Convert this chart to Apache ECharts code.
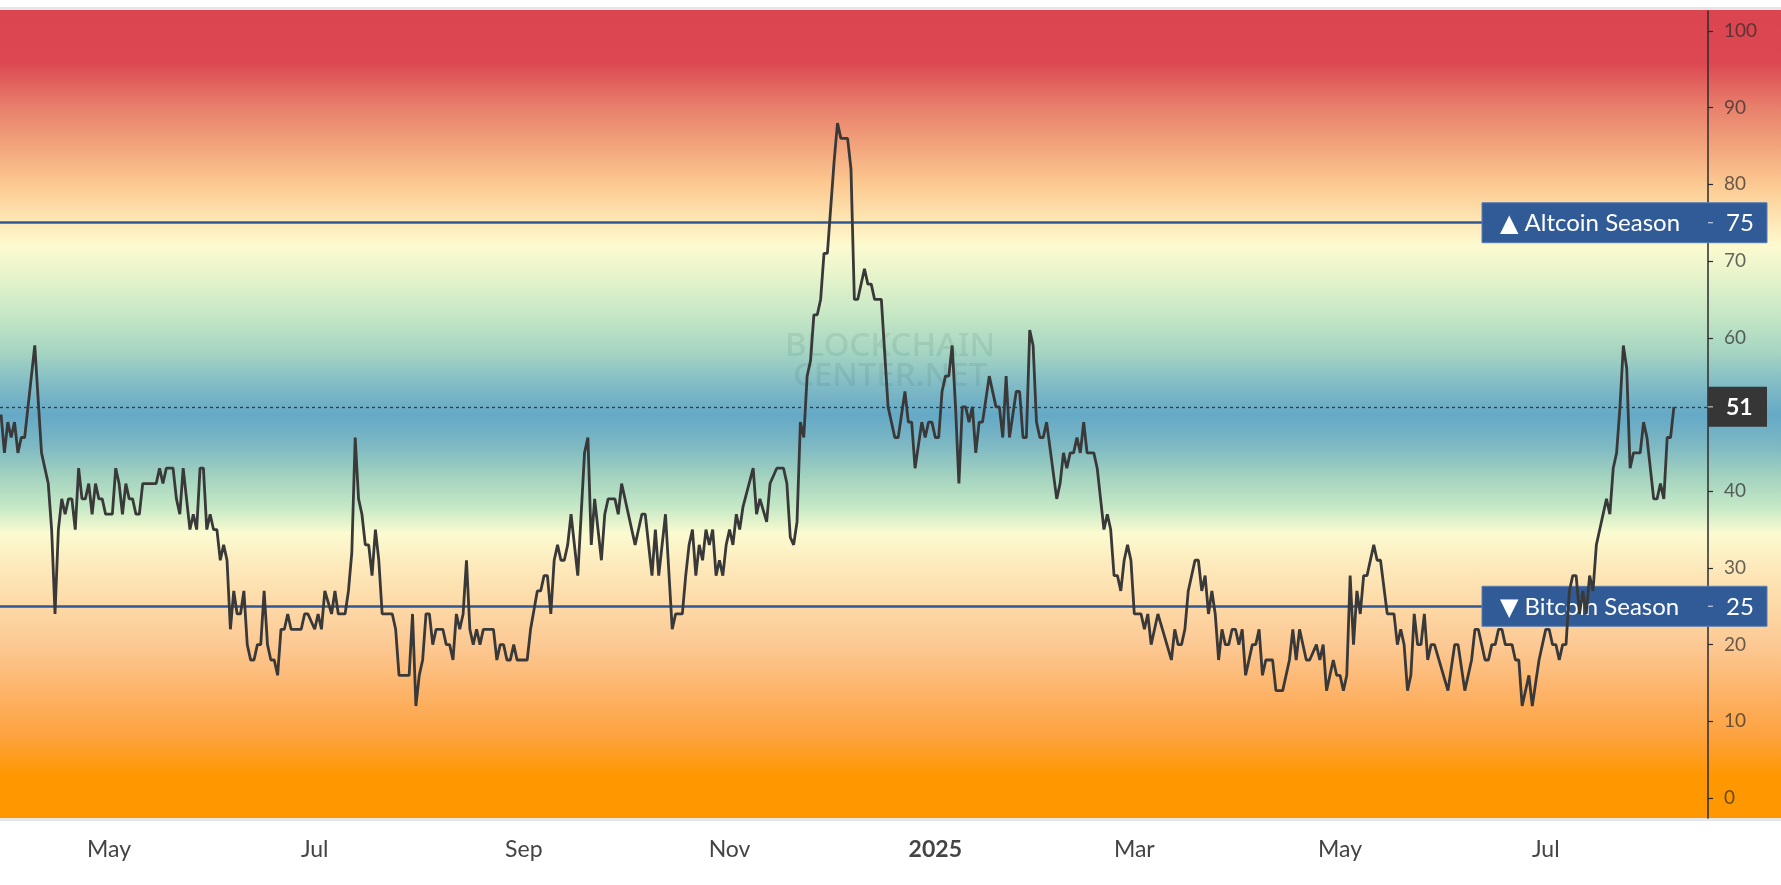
<!DOCTYPE html>
<html>
<head>
<meta charset="utf-8">
<script src="https://cdn.jsdelivr.net/npm/echarts@6/dist/echarts.min.js"></script>
<style>
html, body { margin: 0; padding: 0; background: #fff; }
#main { width: 1781px; height: 885px; }
</style>
</head>
<body>
<div id="main"></div>
<script>
var DAY = 86400000;
var startDate = Date.UTC(2024, 2, 30);

// days since startDate, and the index value on that day
var dayOffsets = [0, 1, 2, 3, 4, 5, 6, 7, 8, 10, 12, 14, 15, 16, 17, 18, 19, 20, 21, 22, 23, 24, 25, 26, 27, 28, 29, 30, 31, 33, 34, 35, 36, 37, 38, 39, 40, 41, 42, 46, 47, 48, 49, 51, 52, 53, 54, 55, 56, 57, 58, 59, 60, 61, 62, 63, 64, 65, 66, 67, 68, 69, 70, 71, 72, 73, 74, 75, 76, 77, 78, 79, 80, 81, 82, 83, 84, 85, 86, 89, 90, 91, 93, 94, 95, 96, 98, 99, 100, 102, 103, 104, 105, 106, 107, 108, 109, 110, 111, 112, 113, 116, 117, 118, 121, 122, 123, 124, 125, 126, 127, 128, 129, 131, 132, 133, 134, 135, 136, 137, 138, 139, 140, 141, 142, 143, 146, 147, 148, 149, 150, 151, 152, 153, 156, 157, 159, 160, 161, 162, 163, 164, 165, 166, 167, 168, 169, 171, 173, 174, 175, 176, 177, 178, 179, 180, 182, 183, 184, 186, 188, 189, 190, 191, 193, 194, 195, 197, 199, 200, 202, 203, 204, 205, 206, 207, 208, 209, 210, 211, 212, 213, 214, 215, 216, 217, 218, 219, 220, 223, 224, 225, 227, 228, 230, 232, 233, 234, 235, 236, 237, 238, 239, 240, 241, 242, 243, 244, 245, 246, 247, 248, 249, 251, 252, 253, 254, 256, 257, 258, 259, 261, 263, 265, 266, 268, 269, 270, 271, 273, 274, 275, 276, 277, 278, 279, 280, 281, 282, 283, 284, 285, 286, 287, 288, 289, 290, 291, 293, 295, 296, 297, 298, 299, 301, 302, 303, 304, 305, 306, 307, 308, 309, 310, 313, 314, 315, 316, 317, 318, 319, 320, 321, 322, 324, 325, 327, 328, 329, 330, 331, 332, 333, 334, 335, 336, 338, 339, 340, 341, 343, 347, 348, 349, 350, 351, 352, 354, 355, 356, 357, 358, 359, 360, 361, 362, 363, 364, 365, 366, 367, 368, 369, 371, 372, 373, 374, 375, 377, 378, 380, 382, 383, 384, 385, 387, 388, 390, 391, 392, 393, 395, 396, 397, 398, 399, 400, 401, 402, 403, 404, 405, 407, 408, 409, 411, 413, 414, 415, 416, 417, 418, 419, 420, 421, 422, 423, 424, 425, 429, 431, 432, 434, 436, 437, 438, 440, 441, 442, 443, 444, 445, 446, 448, 449, 450, 451, 453, 454, 456, 457, 458, 459, 460, 461, 462, 463, 464, 465, 466, 467, 468, 469, 470, 471, 472, 473, 474, 476, 477, 478, 479, 480, 481, 482, 483, 484, 486, 487, 488, 490, 491, 492, 493, 494, 495, 496];
var altIndex = [50, 45, 49, 47, 49, 45, 47, 47, 51, 59, 45, 41, 35, 24, 35, 39, 37, 39, 39, 35, 43, 39, 39, 41, 37, 41, 39, 39, 37, 37, 43, 41, 37, 41, 39, 39, 37, 37, 41, 41, 43, 41, 43, 43, 39, 37, 43, 39, 35, 37, 35, 43, 43, 35, 37, 35, 35, 31, 33, 31, 22, 27, 24, 24, 27, 20, 18, 18, 20, 20, 27, 20, 18, 18, 16, 22, 22, 24, 22, 22, 24, 24, 22, 24, 22, 27, 24, 27, 24, 24, 27, 32, 47, 39, 37, 33, 33, 29, 35, 31, 24, 24, 22, 16, 16, 24, 12, 16, 18, 24, 24, 20, 22, 22, 20, 20, 18, 24, 22, 24, 31, 22, 20, 22, 20, 22, 22, 18, 20, 20, 18, 18, 20, 18, 18, 22, 27, 27, 29, 29, 24, 31, 33, 31, 31, 33, 37, 29, 45, 47, 33, 39, 35, 31, 37, 39, 39, 37, 41, 37, 33, 35, 37, 37, 29, 35, 29, 37, 22, 24, 24, 29, 33, 35, 29, 33, 31, 35, 33, 35, 29, 31, 29, 33, 35, 33, 37, 35, 38, 43, 37, 39, 36, 41, 43, 43, 41, 34, 33, 36, 49, 47, 55, 57, 63, 63, 65, 71, 71, 77, 83, 88, 86, 86, 82, 65, 65, 69, 67, 67, 65, 65, 51, 47, 47, 53, 49, 49, 43, 49, 47, 49, 49, 47, 47, 53, 55, 55, 59, 51, 41, 51, 51, 49, 51, 45, 49, 49, 55, 51, 51, 47, 55, 47, 53, 53, 47, 47, 61, 59, 49, 47, 47, 49, 39, 41, 45, 43, 45, 45, 47, 45, 49, 45, 45, 43, 35, 37, 35, 29, 29, 27, 31, 33, 31, 24, 24, 22, 24, 20, 24, 18, 22, 20, 20, 22, 27, 31, 31, 27, 29, 24, 27, 24, 18, 22, 20, 20, 22, 22, 20, 22, 16, 20, 20, 22, 16, 18, 18, 14, 14, 18, 22, 18, 22, 18, 18, 20, 18, 20, 14, 18, 16, 16, 14, 16, 29, 20, 27, 24, 29, 29, 33, 31, 31, 24, 24, 20, 22, 20, 14, 16, 24, 20, 20, 24, 18, 20, 20, 14, 20, 20, 14, 18, 22, 22, 18, 18, 20, 20, 22, 22, 20, 20, 18, 18, 12, 16, 12, 18, 20, 22, 22, 20, 20, 18, 20, 20, 27, 29, 29, 24, 27, 24, 29, 27, 33, 35, 39, 37, 43, 45, 51, 59, 56, 43, 45, 45, 49, 47, 39, 39, 41, 39, 47, 47, 51];

var monthTicks = ['2024-05-01', '2024-07-01', '2024-09-01', '2024-11-01', '2025-01-01', '2025-03-01', '2025-05-01', '2025-07-01'];
var yTicks = [0, 10, 20, 30, 40, 50, 60, 70, 80, 90, 100];
var altcoinSeason = 75;
var bitcoinSeason = 25;
var lastValue = 51;

var yMin = -2.6, yMax = 102.6;
var xMin = startDate - 0.31 * DAY, xMax = startDate + 506.1 * DAY;
var monthNames = ['Jan', 'Feb', 'Mar', 'Apr', 'May', 'Jun', 'Jul', 'Aug', 'Sep', 'Oct', 'Nov', 'Dec'];
var FONT = 'Lato, "DejaVu Sans", sans-serif';

// background colour bands, by index value
var bgStops = [
    [102.6, '#db4550'], [96, '#dc4751'], [90, '#e8806c'], [85, '#f2a47c'], [80, '#fcc991'],
    [76, '#fde2af'], [72, '#fdfad0'], [68, '#e6f4cb'], [63, '#c6e7c5'], [58, '#a4d4c2'],
    [54, '#82bcc5'], [50, '#65a9c7'], [46, '#7db8c3'], [42, '#a2d2bf'], [38, '#c4e8c6'],
    [34.5, '#fbfbd0'], [30, '#fde9bb'], [25, '#fdd9a6'], [20, '#fcc994'], [14, '#fdb46a'],
    [8, '#fda23e'], [3, '#ff9800'], [-2.6, '#ff9800']
];

var seriesData = dayOffsets.map(function (d, i) {
    return [startDate + d * DAY, altIndex[i]];
});

var myChart = echarts.init(document.getElementById('main'));

var option = {
    animation: false,
    backgroundColor: '#ffffff',
    grid: { left: 0, right: 73, top: 11, bottom: 67 },
    xAxis: {
        type: 'value',
        min: xMin,
        max: xMax,
        axisLine: { show: false },
        axisTick: { show: false },
        splitLine: { show: false },
        axisLabel: {
            customValues: monthTicks.map(function (s) { return Date.parse(s); }),
            margin: 20,
            color: '#444',
            fontSize: 23,
            fontFamily: FONT,
            formatter: function (v) {
                var dt = new Date(v);
                if (dt.getUTCMonth() === 0) return '{yr|' + dt.getUTCFullYear() + '}';
                return monthNames[dt.getUTCMonth()];
            },
            rich: {
                yr: { fontSize: 23, fontWeight: 'bold', color: '#444', fontFamily: FONT }
            }
        }
    },
    yAxis: {
        type: 'value',
        position: 'right',
        min: yMin,
        max: yMax,
        axisLine: { show: true, lineStyle: { color: '#2b2b2b', width: 1.5 } },
        axisTick: { show: true, length: 5, customValues: yTicks, lineStyle: { color: '#2b2b2b', width: 1.2 } },
        splitLine: { show: false },
        axisLabel: {
            customValues: yTicks,
            margin: 16,
            color: 'rgba(45,45,45,0.72)',
            fontSize: 19,
            fontFamily: FONT
        }
    },
    series: [{
        type: 'line',
        data: seriesData,
        showSymbol: false,
        z: 10,
        lineStyle: { color: '#393939', width: 2.8 },
        markLine: {
            silent: true,
            symbol: 'none',
            label: { show: false },
            z: 2,
            data: [
                { yAxis: altcoinSeason, lineStyle: { color: '#2f5898', width: 2.6, type: 'solid' } },
                { yAxis: bitcoinSeason, lineStyle: { color: '#2f5898', width: 2.6, type: 'solid' } },
                { yAxis: lastValue, lineStyle: { color: '#3a3a3a', width: 1.3, type: [3, 3] } }
            ]
        }
    }]
};

myChart.setOption(option);

// decorations placed from the axis scales
function py(v) { return myChart.convertToPixel({ yAxisIndex: 0 }, v); }
var W = 1781;
var plotRight = myChart.convertToPixel({ xAxisIndex: 0 }, xMax);
var bgTop = py(yMax) - 1, bgBottom = py(yMin);
var bgH = bgBottom - bgTop;

var gradStops = bgStops.map(function (s) {
    return { offset: Math.min(1, Math.max(0, (py(s[0]) - bgTop) / bgH)), color: s[1] };
});

function seasonBox(value, title) {
    var y = py(value);
    return [
        { type: 'rect', z: 5, silent: true, shape: { x: plotRight - 226, y: y - 20, width: 285, height: 40 },
          style: { fill: '#315b97', stroke: '#5a7db3', lineWidth: 1 } },
        { type: 'line', z: 6, silent: true, shape: { x1: plotRight, y1: y, x2: plotRight + 5, y2: y },
          style: { stroke: 'rgba(255,255,255,0.7)', lineWidth: 1.2 } },
        { type: 'text', z: 6, silent: true, x: plotRight - 208, y: y + 1,
          style: { text: title, fill: '#ffffff', font: '24px ' + FONT, verticalAlign: 'middle', align: 'left' } },
        { type: 'text', z: 6, silent: true, x: plotRight + 18, y: y + 1,
          style: { text: String(value), fill: '#ffffff', font: '24px ' + FONT, verticalAlign: 'middle', align: 'left' } }
    ];
}

var yLast = py(lastValue);
var graphics = [
    { type: 'rect', zlevel: -1, silent: true,
      shape: { x: 0, y: bgTop, width: W, height: bgH },
      style: { fill: new echarts.graphic.LinearGradient(0, 0, 0, 1, gradStops) } },
    { type: 'rect', zlevel: -1, silent: true,
      shape: { x: 0, y: bgTop - 3, width: W, height: 3 }, style: { fill: '#e6e6e6' } },
    { type: 'rect', zlevel: -1, silent: true,
      shape: { x: 0, y: bgBottom, width: W, height: 3 }, style: { fill: '#e6e6e6' } },
    { type: 'text', silent: true, z: 1, x: 890, y: 347,
      style: { text: 'BLOCKCHAIN', fill: 'rgba(60,100,100,0.12)', font: '500 33px "Noto Sans", sans-serif', align: 'center', verticalAlign: 'middle' } },
    { type: 'text', silent: true, z: 1, x: 890, y: 377,
      style: { text: 'CENTER.NET', fill: 'rgba(60,100,100,0.12)', font: '500 33px "Noto Sans", sans-serif', align: 'center', verticalAlign: 'middle' } },
    { type: 'rect', z: 5, silent: true, shape: { x: plotRight, y: yLast - 20, width: 59, height: 40 }, style: { fill: '#363636' } },
    { type: 'line', z: 6, silent: true, shape: { x1: plotRight, y1: yLast, x2: plotRight + 5, y2: yLast },
      style: { stroke: 'rgba(255,255,255,0.7)', lineWidth: 1.2 } },
    { type: 'text', z: 6, silent: true, x: plotRight + 18, y: yLast + 1,
      style: { text: String(lastValue), fill: '#ffffff', font: 'bold 23px ' + FONT, verticalAlign: 'middle', align: 'left' } }
].concat(seasonBox(altcoinSeason, '\u25B2 Altcoin Season'), seasonBox(bitcoinSeason, '\u25BC Bitcoin Season'));

myChart.setOption({ graphic: graphics });
</script>
</body>
</html>
